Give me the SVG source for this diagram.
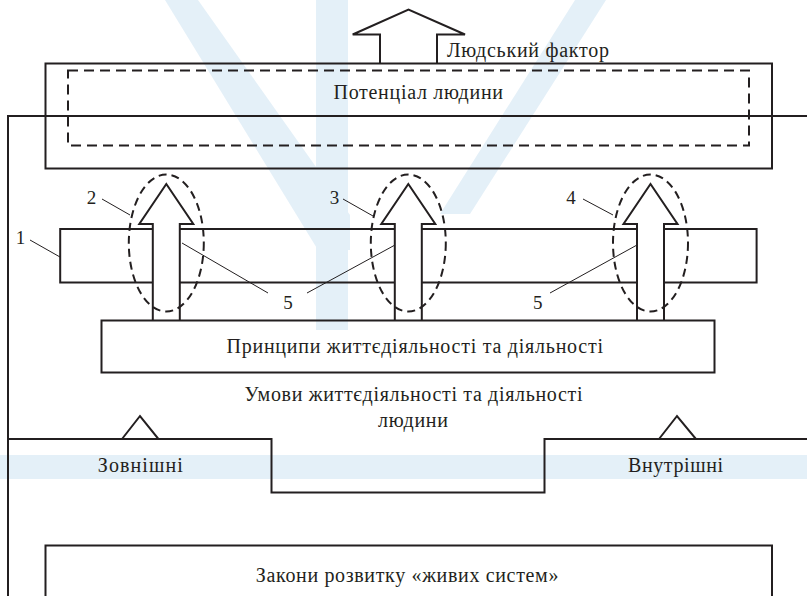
<svg xmlns="http://www.w3.org/2000/svg" width="807" height="596" viewBox="0 0 807 596">
  <style>
    .ln { fill: none; stroke: #231f20; stroke-width: 2; stroke-linejoin: miter; }
    .thin { fill: none; stroke: #231f20; stroke-width: 1; }
    .dash { fill: none; stroke: #231f20; stroke-width: 2; stroke-dasharray: 10 6; }
    .oval { fill: none; stroke: #231f20; stroke-width: 2; stroke-dasharray: 8 5; }
    .wm { fill: #e4f0f8; }
    text { font-family: "Liberation Serif", "DejaVu Serif", serif; fill: #231f20; }
    .lbl { font-size: 20px; }
    .num { font-size: 19px; text-anchor: middle; }
  </style>

  <rect width="807" height="596" fill="#ffffff"/>

  <!-- pale background emblem -->
  <g id="backdrop">
    <polygon class="wm" points="165,0 198,0 350,215 350,250 318,250"/>
    <rect class="wm" x="316" y="0" width="32" height="330"/>
    <polygon class="wm" points="575,0 606,0 470,214 440,214"/>
    <rect class="wm" x="0" y="455" width="807" height="24"/>
  </g>

  <!-- connectors: frame lines and leader lines -->
  <g id="connectors">
    <polyline class="ln" points="807,116 8,116 8,596"/>
    <polyline class="ln" points="8,439 271.5,439 271.5,492.5 544.5,492.5 544.5,439 807,439"/>
    <line class="thin" x1="30" y1="240" x2="60" y2="257"/>
    <line class="thin" x1="102" y1="199" x2="130" y2="215"/>
    <line class="thin" x1="343" y1="199" x2="373" y2="216"/>
    <line class="thin" x1="583" y1="199" x2="613" y2="215"/>
    <line class="thin" x1="182" y1="243" x2="268" y2="293"/>
    <line class="thin" x1="395" y1="245" x2="307" y2="293"/>
    <line class="thin" x1="637" y1="245" x2="550" y2="293"/>
  </g>

  <!-- human factor arrow -->
  <g id="human-factor">
    <polyline class="ln" points="380,63.5 380,34.5 352.7,34.5 408.5,9.5 465,34.5 437,34.5 437,63.5"/>
    <text class="lbl" x="447" y="57" textLength="162">Людський фактор</text>
  </g>

  <!-- human potential -->
  <g id="potential">
    <rect class="ln" x="45.5" y="63.5" width="726.5" height="105"/>
    <rect class="dash" x="68" y="70.5" width="681" height="75"/>
    <text class="lbl" x="333.5" y="99" textLength="169.5">Потенціал людини</text>
  </g>

  <!-- band 1, broken where the arrows pass -->
  <g id="band-1">
    <path class="ln" d="M152.8,229 H60.2 V282.4 H152.8 M179.8,229 H394.8 M179.8,282.4 H394.8 M421.8,229 H637 M421.8,282.4 H637 M664,229 H756.6 V282.4 H664"/>
  </g>

  <!-- arrows 2, 3, 4 -->
  <g id="arrow-2">
    <polyline class="ln" points="152.8,320.5 152.8,224 139.3,224 166.3,184 193.3,224 179.8,224 179.8,320.5"/>
    <ellipse class="oval" cx="166.3" cy="243" rx="37.5" ry="68.5"/>
  </g>
  <g id="arrow-3">
    <polyline class="ln" points="394.8,320.5 394.8,224 381.3,224 408.3,184 435.3,224 421.8,224 421.8,320.5"/>
    <ellipse class="oval" cx="408.3" cy="243" rx="37.5" ry="68.5"/>
  </g>
  <g id="arrow-4">
    <polyline class="ln" points="637,320.5 637,224 623.5,224 650.5,184 677.5,224 664,224 664,320.5"/>
    <ellipse class="oval" cx="650.5" cy="243" rx="37.5" ry="68.5"/>
  </g>

  <!-- numbered callouts -->
  <g id="callouts">
    <text class="num" x="20.6" y="244">1</text>
    <text class="num" x="91.6" y="204">2</text>
    <text class="num" x="334.5" y="204">3</text>
    <text class="num" x="571" y="204">4</text>
    <text class="num" x="288" y="309">5</text>
    <text class="num" x="537.8" y="309">5</text>
  </g>

  <!-- principles -->
  <g id="principles">
    <rect class="ln" x="101.5" y="320.5" width="613" height="52"/>
    <text class="lbl" x="226.5" y="353" textLength="376.5">Принципи життєдіяльності та діяльності</text>
  </g>

  <!-- conditions -->
  <g id="conditions">
    <text class="lbl" x="244.5" y="401" textLength="338">Умови життєдіяльності та діяльності</text>
    <text class="lbl" x="378" y="427" textLength="70">людини</text>
  </g>

  <g id="external">
    <polygon class="ln" points="122,439 140,416 158.5,439"/>
    <text class="lbl" x="97.8" y="472" textLength="85">Зовнішні</text>
  </g>

  <g id="internal">
    <polygon class="ln" points="659,439 677,416 696,439"/>
    <text class="lbl" x="628" y="472" textLength="95">Внутрішні</text>
  </g>

  <!-- laws of living systems -->
  <g id="laws">
    <polyline class="ln" points="45.5,600 45.5,545.5 772,545.5 772,600"/>
    <text class="lbl" x="255.8" y="582" textLength="302.6">Закони розвитку «живих систем»</text>
  </g>
</svg>
